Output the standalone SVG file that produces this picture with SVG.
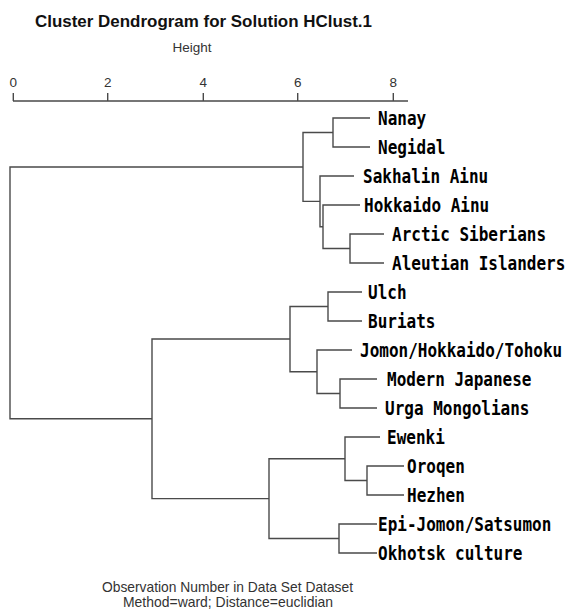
<svg xmlns="http://www.w3.org/2000/svg" width="568" height="610" viewBox="0 0 568 610">
<style>
.title{font-family:"Liberation Sans",Arial,sans-serif;font-weight:bold;font-size:16.5px;fill:#111}
.ax{font-family:"Liberation Sans",Arial,sans-serif;font-size:13.5px;fill:#333}
.foot{font-family:"Liberation Sans",Arial,sans-serif;font-size:14.5px;fill:#333}
.leaf{font-family:"DejaVu Sans Mono","Liberation Mono",monospace;font-weight:bold;font-size:16px;fill:#000}
.ln{fill:none;stroke:#4a4a4a;stroke-width:1.4}
</style>
<rect width="568" height="610" fill="#fff"/>
<text class="title" x="35" y="27" textLength="337" lengthAdjust="spacingAndGlyphs">Cluster Dendrogram for Solution HClust.1</text>
<text class="ax" x="192" y="52" text-anchor="middle">Height</text>
<g id="axis">
<path class="ln" d="M13 101 H408 M13.3 93 V101 M107.7 93 V101 M203.3 93 V101 M297.7 93 V101 M393.3 93 V101"/>
<text class="ax" x="13.3" y="87" text-anchor="middle">0</text>
<text class="ax" x="107.7" y="87" text-anchor="middle">2</text>
<text class="ax" x="203.3" y="87" text-anchor="middle">4</text>
<text class="ax" x="297.7" y="87" text-anchor="middle">6</text>
<text class="ax" x="393.3" y="87" text-anchor="middle">8</text>
</g>
<g id="connectors">
<path class="ln" d="M370 118 H333 V147 H370"/>
<path class="ln" d="M384 234 H350 V263 H384"/>
<path class="ln" d="M360 205 H323 V248.5 H350"/>
<path class="ln" d="M354 176 H320 V226.75 H323"/>
<path class="ln" d="M333 132.5 H303 V201.4 H320"/>
<path class="ln" d="M362 292 H328 V321 H362"/>
<path class="ln" d="M377 379 H340 V408 H377"/>
<path class="ln" d="M352 350 H317 V393.5 H340"/>
<path class="ln" d="M328 306.5 H290 V371.75 H317"/>
<path class="ln" d="M404 466 H367 V495 H404"/>
<path class="ln" d="M380 437 H345 V480.5 H367"/>
<path class="ln" d="M377 524 H339 V553 H377"/>
<path class="ln" d="M345 458.75 H269 V538.5 H339"/>
<path class="ln" d="M290 339 H152 V498.6 H269"/>
<path class="ln" d="M303 167 H10 V418.8 H152"/>
</g>
<g id="nanay"><text class="leaf" transform="translate(378 125) scale(1 1.19)">Nanay</text></g>
<g id="negidal"><text class="leaf" transform="translate(378 154) scale(1 1.19)">Negidal</text></g>
<g id="sakhalin-ainu"><text class="leaf" transform="translate(363 183) scale(1 1.19)">Sakhalin Ainu</text></g>
<g id="hokkaido-ainu"><text class="leaf" transform="translate(364 212) scale(1 1.19)">Hokkaido Ainu</text></g>
<g id="arctic-siberians"><text class="leaf" transform="translate(392 241) scale(1 1.19)">Arctic Siberians</text></g>
<g id="aleutian-islanders"><text class="leaf" transform="translate(392 270) scale(1 1.19)">Aleutian Islanders</text></g>
<g id="ulch"><text class="leaf" transform="translate(368 299) scale(1 1.19)">Ulch</text></g>
<g id="buriats"><text class="leaf" transform="translate(368 328) scale(1 1.19)">Buriats</text></g>
<g id="jomon-hokkaido-tohoku"><text class="leaf" transform="translate(360 357) scale(1 1.19)">Jomon/Hokkaido/Tohoku</text></g>
<g id="modern-japanese"><text class="leaf" transform="translate(387 386) scale(1 1.19)">Modern Japanese</text></g>
<g id="urga-mongolians"><text class="leaf" transform="translate(385 415) scale(1 1.19)">Urga Mongolians</text></g>
<g id="ewenki"><text class="leaf" transform="translate(387 444) scale(1 1.19)">Ewenki</text></g>
<g id="oroqen"><text class="leaf" transform="translate(407 473) scale(1 1.19)">Oroqen</text></g>
<g id="hezhen"><text class="leaf" transform="translate(407 502) scale(1 1.19)">Hezhen</text></g>
<g id="epi-jomon-satsumon"><text class="leaf" transform="translate(378 531) scale(1 1.19)">Epi-Jomon/Satsumon</text></g>
<g id="okhotsk-culture"><text class="leaf" transform="translate(378 560) scale(1 1.19)">Okhotsk culture</text></g>
<text class="foot" x="102" y="592" textLength="251" lengthAdjust="spacingAndGlyphs">Observation Number in Data Set Dataset</text>
<text class="foot" x="123" y="607" textLength="210" lengthAdjust="spacingAndGlyphs">Method=ward; Distance=euclidian</text>
</svg>
